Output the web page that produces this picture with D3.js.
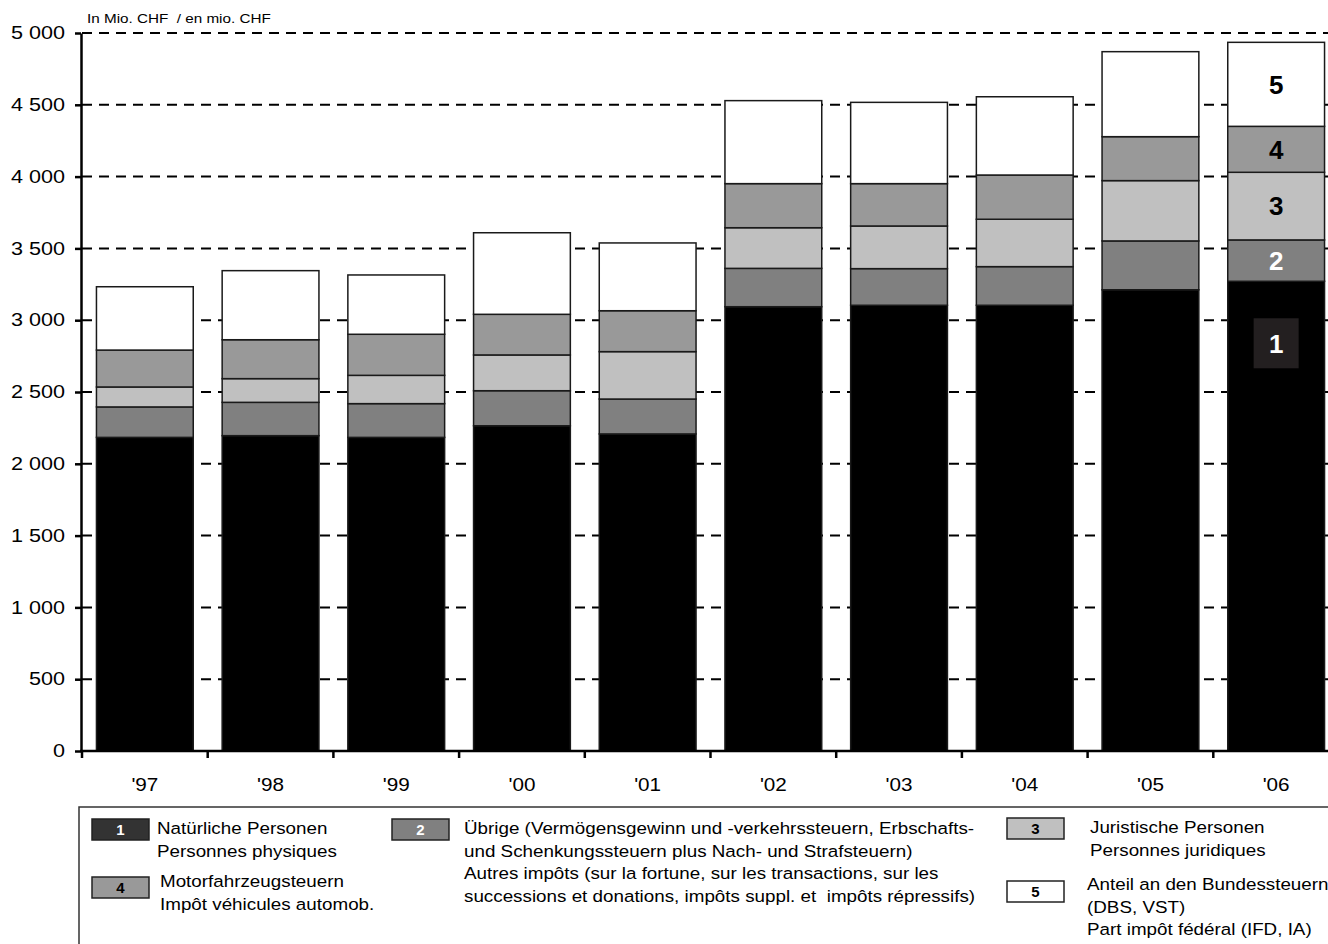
<!DOCTYPE html>
<html>
<head>
<meta charset="utf-8">
<script src="https://cdn.jsdelivr.net/npm/d3@7"></script>
<style>
  body { margin: 0; background: #fff; }
  svg { display: block; font-family: "Liberation Sans", Arial, sans-serif; }
  .axis path, .axis line { stroke: #000; }
  .grid-line { stroke: #000; stroke-width: 2; stroke-dasharray: 10,7; }
  .leg-text { font-size: 16.5px; fill: #000; }
</style>
</head>
<body>
<svg id="chart"></svg>
<script>
// Data (in Mio. CHF)
var years = ["'97", "'98", "'99", "'00", "'01", "'02", "'03", "'04", "'05", "'06"];
var natPersonen = [2184, 2196, 2184, 2265, 2208, 3094, 3104, 3104, 3212, 3271];
var uebrige     = [212, 232, 235, 244, 243, 267, 255, 269, 340, 288];
var jurPersonen = [139, 165, 197, 249, 330, 283, 297, 330, 420, 471];
var motorfahrz  = [257, 271, 286, 283, 285, 307, 295, 308, 306, 320];
var bundesAnt   = [441, 481, 413, 568, 472, 578, 566, 545, 592, 585];
var yTicks = [0, 500, 1000, 1500, 2000, 2500, 3000, 3500, 4000, 4500, 5000];

// Series in stacking order (bottom to top)
var seriesKeys = ["1", "2", "3", "4", "5"];
var seriesVals = [natPersonen, uebrige, jurPersonen, motorfahrz, bundesAnt];
var colors = {"1": "#000000", "2": "#808080", "3": "#c0c0c0", "4": "#999999", "5": "#ffffff"};
var labelColors = {"1": "#ffffff", "2": "#ffffff", "3": "#000000", "4": "#000000", "5": "#000000"};

var rows = years.map(function(yr, i) {
  var r = {year: yr};
  seriesKeys.forEach(function(k, j) { r[k] = seriesVals[j][i]; });
  return r;
});

var width = 1328, height = 944;

var svg = d3.select("#chart")
    .attr("width", width)
    .attr("height", height);

// Text in the original is slightly stretched horizontally
function stretch(sel, sx) {
  sel.each(function() {
    var t = d3.select(this);
    var tx = +t.attr("x") || 0, ty = +t.attr("y") || 0;
    t.attr("x", 0).attr("y", 0)
     .attr("transform", "translate(" + tx + "," + ty + ") scale(" + sx + ",1)");
  });
}

// Scales
var x = d3.scaleBand()
    .domain(years)
    .range([82, 1339])
    .paddingInner(0.23)
    .paddingOuter(0.115);

var y = d3.scaleLinear()
    .domain([0, 5000])
    .range([751, 33]);

var locale = d3.formatLocale({decimal: ".", thousands: " ", grouping: [3], currency: ["", ""]});
var fmt = locale.format(",");

// Grid lines
svg.append("g")
  .selectAll(".grid-line")
  .data(yTicks.filter(function(d) { return d > 0; }))
  .enter().append("line")
    .attr("class", "grid-line")
    .attr("x1", 82)
    .attr("x2", width)
    .attr("y1", function(d) { return y(d); })
    .attr("y2", function(d) { return y(d); });

// Stacked bars
var stacked = d3.stack().keys(seriesKeys)(rows);

var layers = svg.append("g")
  .selectAll("g")
  .data(stacked)
  .enter().append("g")
    .attr("fill", function(d) { return colors[d.key]; });

layers.selectAll("rect")
  .data(function(d) { return d; })
  .enter().append("rect")
    .attr("x", function(d) { return x(d.data.year); })
    .attr("width", x.bandwidth())
    .attr("y", function(d) { return y(d[1]); })
    .attr("height", function(d) { return y(d[0]) - y(d[1]); })
    .attr("stroke", "#1a1a1a")
    .attr("stroke-width", 1.5);

// Segment numbers in the last bar
var last = years.length - 1;
stacked.forEach(function(s) {
  var seg = s[last];
  var cx = x(years[last]) + x.bandwidth() / 2;
  var cy = (y(seg[0]) + y(seg[1])) / 2;
  if (s.key === "1") {
    cy = y(seg[1]) + 62;
    svg.append("rect")
      .attr("x", cx - 22.5)
      .attr("y", cy - 25)
      .attr("width", 45)
      .attr("height", 50)
      .attr("fill", "#231f20");
  }
  svg.append("text")
    .attr("x", cx)
    .attr("y", cy)
    .attr("dy", "0.36em")
    .attr("text-anchor", "middle")
    .attr("font-size", 26)
    .attr("font-weight", "bold")
    .attr("fill", labelColors[s.key])
    .text(s.key);
});

// Y axis
var yAxis = d3.axisLeft(y).tickValues(yTicks).tickSize(6).tickSizeOuter(0).tickPadding(10).tickFormat(fmt);
svg.append("g")
    .attr("class", "axis")
    .attr("transform", "translate(81,0)")
    .call(yAxis)
    .call(function(g) {
      g.select(".domain").attr("stroke-width", 2.5);
      g.selectAll(".tick line").attr("stroke-width", 2.5);
      g.selectAll("text").attr("font-size", 18).attr("fill", "#000").attr("font-family", null)
        .call(stretch, 1.2);
    });

// X axis
var xAxis = d3.axisBottom(x).tickSize(0).tickPadding(27);
svg.append("g")
    .attr("class", "axis")
    .attr("transform", "translate(0,751)")
    .call(xAxis)
    .call(function(g) {
      g.select(".domain").remove();
      g.selectAll("text").attr("font-size", 18).attr("fill", "#000").attr("font-family", null)
        .call(stretch, 1.15);
    });

svg.append("line")
    .attr("x1", 80).attr("x2", width)
    .attr("y1", 751).attr("y2", 751)
    .attr("stroke", "#000").attr("stroke-width", 2.5);

svg.append("g")
  .selectAll("line")
  .data(years)
  .enter().append("line")
    .attr("x1", function(d) { return x(d) - x.step() * x.paddingInner() / 2; })
    .attr("x2", function(d) { return x(d) - x.step() * x.paddingInner() / 2; })
    .attr("y1", 751)
    .attr("y2", 758)
    .attr("stroke", "#000")
    .attr("stroke-width", 2.5);

// Unit label
svg.append("text")
    .attr("x", 87)
    .attr("y", 23)
    .attr("font-size", 13.5)
    .style("white-space", "pre")
    .text("In Mio. CHF  / en mio. CHF")
    .call(stretch, 1.13);

// Legend
svg.append("rect")
    .attr("x", 79).attr("y", 807)
    .attr("width", 1400).attr("height", 300)
    .attr("fill", "none")
    .attr("stroke", "#333")
    .attr("stroke-width", 1.5);

var legendItems = [
  {key: "1", sx: 92, sy: 819, fill: "#333333", tx: 157, ty: 834, lines: ["Natürliche Personen", "Personnes physiques"]},
  {key: "4", sx: 92, sy: 877, fill: "#999999", tx: 160, ty: 887, lines: ["Motorfahrzeugsteuern", "Impôt véhicules automob."]},
  {key: "2", sx: 392, sy: 819, fill: "#808080", tx: 464, ty: 834, lines: [
    "Übrige (Vermögensgewinn und -verkehrssteuern, Erbschafts-",
    "und Schenkungssteuern plus Nach- und Strafsteuern)",
    "Autres impôts (sur la fortune, sur les transactions, sur les",
    "successions et donations, impôts suppl. et  impôts répressifs)"]},
  {key: "3", sx: 1007, sy: 818, fill: "#c0c0c0", tx: 1090, ty: 833, lines: ["Juristische Personen", "Personnes juridiques"]},
  {key: "5", sx: 1007, sy: 881, fill: "#ffffff", tx: 1087, ty: 890, lines: ["Anteil an den Bundessteuern", "(DBS, VST)", "Part impôt fédéral (IFD, IA)"]}
];

var leg = svg.append("g")
  .selectAll("g")
  .data(legendItems)
  .enter().append("g");

leg.append("rect")
    .attr("x", function(d) { return d.sx; })
    .attr("y", function(d) { return d.sy; })
    .attr("width", 57)
    .attr("height", 21)
    .attr("fill", function(d) { return d.fill; })
    .attr("stroke", "#222")
    .attr("stroke-width", 1.5);

leg.append("text")
    .attr("x", function(d) { return d.sx + 28.5; })
    .attr("y", function(d) { return d.sy + 10.5; })
    .attr("dy", "0.36em")
    .attr("text-anchor", "middle")
    .attr("font-size", 15)
    .attr("font-weight", "bold")
    .attr("fill", function(d) { return labelColors[d.key]; })
    .text(function(d) { return d.key; });

leg.each(function(d) {
  var g = d3.select(this);
  d.lines.forEach(function(line, i) {
    g.append("text")
      .attr("class", "leg-text")
      .attr("x", d.tx)
      .attr("y", d.ty + i * 22.5)
      .style("white-space", "pre")
      .text(line)
      .call(stretch, 1.14);
  });
});
</script>
</body>
</html>
